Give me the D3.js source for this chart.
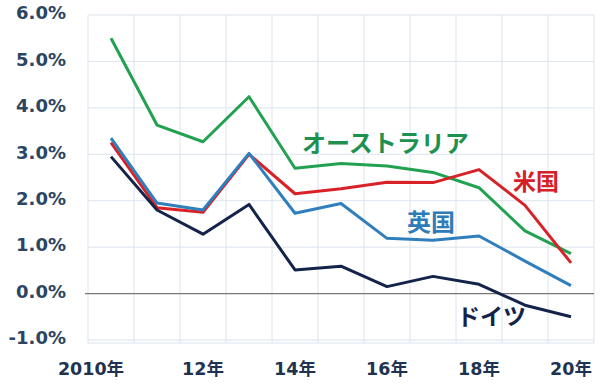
<!DOCTYPE html>
<html><head><meta charset="utf-8">
<script src="https://cdn.jsdelivr.net/npm/d3@7"></script>
<style>body{margin:0;background:#fff}svg{display:block}</style>
</head><body>
<svg id="c" width="600" height="385"></svg>
<script>
const years = ["2010","2011","2012","2013","2014","2015","2016","2017","2018","2019","2020"];
const xTickLabels = {"2010":"2010年","2012":"12年","2014":"14年","2016":"16年","2018":"18年","2020":"20年"};
const yTicks = [-1,0,1,2,3,4,5,6];
const australia = [5.50,3.63,3.27,4.24,2.70,2.80,2.75,2.61,2.28,1.35,0.86];
const usa       = [3.25,1.85,1.75,3.00,2.15,2.26,2.40,2.39,2.67,1.90,0.66];
const uk        = [3.35,1.95,1.80,3.02,1.73,1.94,1.19,1.15,1.24,0.70,0.17];
const germany   = [2.95,1.80,1.28,1.92,0.51,0.59,0.15,0.37,0.20,-0.25,-0.50];
const seriesNames = ["オーストラリア","米国","英国","ドイツ"];

const svg = d3.select("#c");
const L=88,R=594,T=15,B=340;
const x = d3.scaleBand().domain(years).range([L,R]);
const y = d3.scaleLinear().domain([-1,6]).range([B,T]);
const xc = d=>x(d)+x.bandwidth()/2;

// grid
const g = svg.append("g");
g.selectAll(".hg").data(yTicks).enter().append("line")
 .attr("x1",L).attr("x2",R).attr("y1",d=>y(d)).attr("y2",d=>y(d))
 .attr("stroke","#dce4ee").attr("stroke-width",1);
const vb = years.map(d=>x(d)).concat([R]);
g.selectAll(".vg").data(vb).enter().append("line")
 .attr("x1",d=>d).attr("x2",d=>d).attr("y1",T).attr("y2",B+3)
 .attr("stroke","#dce4ee").attr("stroke-width",1);
g.append("line").attr("x1",L).attr("x2",R).attr("y1",B+3).attr("y2",B+3).attr("stroke","#dce4ee");
g.append("line").attr("x1",L-3).attr("x2",R).attr("y1",y(0)).attr("y2",y(0))
 .attr("stroke","#777").attr("stroke-width",1.2);

// y axis
const yAxis = d3.axisLeft(y).tickValues(yTicks).tickFormat(d=>d.toFixed(1)+"%").tickSize(0).tickPadding(0);
const ya = svg.append("g").attr("transform","translate(66,-2)").call(yAxis);
ya.select(".domain").remove();
ya.selectAll("text").attr("font-family","'DejaVu Sans',sans-serif").attr("font-weight","bold")
 .attr("font-size","18px").attr("fill","#2b4563");

// x axis
const xAxis = d3.axisBottom(x).tickValues(Object.keys(xTickLabels)).tickFormat(d=>xTickLabels[d]).tickSize(0).tickPadding(0);
const xa = svg.append("g").attr("transform","translate(0,363)").call(xAxis);
xa.select(".domain").remove();
xa.selectAll("text").attr("font-family","'DejaVu Sans','Noto Sans CJK JP',sans-serif").attr("font-weight","bold")
 .attr("font-size","17.5px").attr("fill","#1f3350")
 .attr("dx",d=>d==="2010"?-20:0);

const line = d3.line().x((d,i)=>xc(years[i])).y(d=>y(d));
const series = [
 {name:seriesNames[0], vals:australia, color:"#22a150"},
 {name:seriesNames[1], vals:usa, color:"#d92228"},
 {name:seriesNames[3], vals:germany, color:"#13234a"},
 {name:seriesNames[2], vals:uk, color:"#2f7fbd"}
];
svg.selectAll(".ln").data(series).enter().append("path")
 .attr("d",d=>line(d.vals)).attr("fill","none").attr("stroke",d=>d.color)
 .attr("stroke-width",3).attr("stroke-linejoin","round");

// labels
const labels = [
 {t:seriesNames[0], x:302, y:152, c:"#1e9050", s:24},
 {t:seriesNames[1], x:513, y:190, c:"#d42026", s:23},
 {t:seriesNames[2], x:407, y:231, c:"#2e7bb8", s:24},
 {t:seriesNames[3], x:457, y:325, c:"#14234a", s:23}
];
svg.selectAll(".lb").data(labels).enter().append("text")
 .attr("x",d=>d.x).attr("y",d=>d.y).text(d=>d.t).attr("fill",d=>d.c)
 .attr("font-family","'Noto Sans CJK JP',sans-serif").attr("font-weight","bold").attr("font-size",d=>d.s+"px");
</script>
</body></html>
